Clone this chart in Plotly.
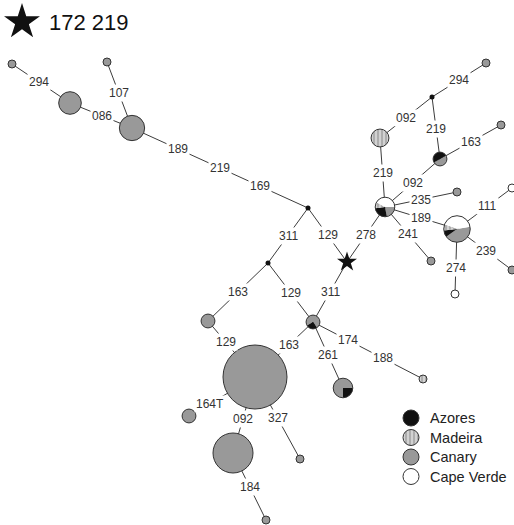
import math
import plotly.graph_objects as go

W, H = 514, 525

# ---------------- data ----------------
regions = ["Azores", "Madeira", "Canary", "Cape Verde"]
haplotypes = ["H1", "H2", "H3", "H4", "H5", "H6", "H7", "H8", "H9", "H10", "H11", "H12",
              "H13", "H14", "H15", "H16", "H17", "H18", "H19", "H20", "H21", "H22", "H23", "H24"]
# number of sequences per haplotype and region (estimated from node size / slices)
azores    = [0, 0, 0, 0, 0, 0.8, 0, 0, 0, 0, 0, 1.5, 0, 0, 1.56, 0.9, 0, 1.5, 0, 0, 0, 0, 0, 0]
madeira   = [0, 0, 0, 0, 0, 0, 0, 0, 0, 0, 0, 0, 1, 5, 0.6, 0.8, 0, 0, 0, 0, 0, 0, 0, 0]
canary    = [1, 8, 1, 10, 3, 2.2, 64, 3, 25, 1, 1, 4.5, 0, 0, 1.32, 4.7, 1, 1.5, 1, 1, 0, 1, 1, 0]
capeverde = [0, 0, 0, 0, 0, 0, 0, 0, 0, 0, 0, 0, 0, 0, 2.52, 4.6, 0, 0, 0, 0, 1, 0, 0, 1]

median_vectors = ["M1", "M2", "M3"]
root = "R"
root_label = "172 219"

# edges: (from, to, mutations along the edge)
edges = [
    ("H1", "H2", ["294"]),
    ("H2", "H4", ["086"]),
    ("H3", "H4", ["107"]),
    ("H4", "M1", ["189", "219", "169"]),
    ("M1", "M2", ["311"]),
    ("M1", "R", ["129"]),
    ("R", "H15", ["278"]),
    ("M2", "H5", ["163"]),
    ("M2", "H6", ["129"]),
    ("R", "H6", ["311"]),
    ("H5", "H7", ["129"]),
    ("H6", "H7", ["163"]),
    ("H6", "H12", ["261"]),
    ("H6", "H13", ["174", "188"]),
    ("H7", "H8", ["164T"]),
    ("H7", "H9", ["092"]),
    ("H7", "H10", ["327"]),
    ("H9", "H11", ["184"]),
    ("H15", "H14", ["219"]),
    ("H14", "M3", ["092"]),
    ("M3", "H17", ["294"]),
    ("M3", "H18", ["219"]),
    ("H18", "H19", ["163"]),
    ("H15", "H18", ["092"]),
    ("H15", "H20", ["235"]),
    ("H15", "H16", ["189"]),
    ("H15", "H22", ["241"]),
    ("H16", "H21", ["111"]),
    ("H16", "H23", ["239"]),
    ("H16", "H24", ["274"]),
]

# ---------------- layout (network drawing) ----------------
pos = {
    "H1": (12, 64), "H2": (70, 103), "H3": (107, 62), "H4": (132, 128),
    "H5": (208, 321), "H6": (313, 322), "H7": (255, 377), "H8": (189, 416),
    "H9": (233, 453), "H10": (300, 459), "H11": (266, 520), "H12": (343, 388),
    "H13": (423, 379), "H14": (380, 138), "H15": (385, 207), "H16": (457, 229),
    "H17": (486, 63), "H18": (440, 159), "H19": (501, 125), "H20": (457, 192),
    "H21": (512, 188), "H22": (431, 261), "H23": (512, 270), "H24": (455, 294),
    "M1": (308, 208), "M2": (268, 263), "M3": (432, 97), "R": (347, 262),
}
label_t = [[0.47], [0.52], [0.47], [0.26, 0.5, 0.73], [0.5], [0.5], [0.5], [0.5], [0.5],
           [0.5], [0.38], [0.42], [0.5], [0.32, 0.64], [0.68], [0.55], [0.5], [0.51],
           [0.49], [0.5], [0.5], [0.52], [0.5], [0.5], [0.5], [0.5], [0.5], [0.56],
           [0.53], [0.6]]
start_angle = {"H6": 240, "H12": 180, "H15": 90, "H16": 80, "H18": 60}

FONT = "Liberation Sans, Arial, sans-serif"
OUT = "#333333"
colors = {"Azores": "#111111", "Madeira": "#d2d2d2", "Canary": "#999999", "Cape Verde": "#ffffff"}
pie_order = ["Canary", "Azores", "Madeira", "Cape Verde"]
SCALE = 4.0  # radius (px) per sqrt(count)

fig = go.Figure()

# edges
ex, ey = [], []
for a, b, _ in edges:
    (x0, y0), (x1, y1) = pos[a], pos[b]
    ex += [x0, x1, None]
    ey += [y0, y1, None]
fig.add_trace(go.Scatter(x=ex, y=ey, mode="lines", line=dict(color="#3c3c3c", width=1),
                         hoverinfo="skip", showlegend=False))

# mutation labels
annotations = []
for (a, b, muts), ts in zip(edges, label_t):
    (x0, y0), (x1, y1) = pos[a], pos[b]
    for m, t in zip(muts, ts):
        annotations.append(dict(x=x0 + (x1 - x0) * t, y=y0 + (y1 - y0) * t, text=m,
                                showarrow=False, xref="x", yref="y", bgcolor="white",
                                borderpad=1, font=dict(family=FONT, size=12, color="#333")))

# haplotype nodes
shapes = []
solid = {r: ([], [], []) for r in regions}
for i, h in enumerate(haplotypes):
    comp = {"Azores": azores[i], "Madeira": madeira[i], "Canary": canary[i], "Cape Verde": capeverde[i]}
    n = sum(comp.values())
    r = SCALE * math.sqrt(n)
    cx, cy = pos[h]
    nz = [k for k in pie_order if comp[k] > 0]
    if len(nz) == 1 and nz[0] != "Madeira":
        xs, ys, ss = solid[nz[0]]
        xs.append(cx); ys.append(cy); ss.append(2 * r)
        continue
    fig.add_trace(go.Pie(
        values=[comp[k] for k in nz],
        marker=dict(colors=[colors[k] for k in nz], line=dict(width=0),
                    pattern=dict(shape=["|" if k == "Madeira" else "" for k in nz],
                                 fillmode="overlay", fgcolor="#555555", size=4, solidity=0.3)),
        domain=dict(x=[(cx - r) / W, (cx + r) / W], y=[(H - cy - r) / H, (H - cy + r) / H]),
        rotation=start_angle.get(h, 0), direction="clockwise", sort=False,
        textinfo="none", hoverinfo="skip", showlegend=False))
    shapes.append(dict(type="circle", xref="x", yref="y", x0=cx - r, x1=cx + r,
                       y0=cy - r, y1=cy + r, line=dict(color=OUT, width=1),
                       fillcolor="rgba(0,0,0,0)", layer="above"))

for reg in regions:
    xs, ys, ss = solid[reg]
    if xs:
        fig.add_trace(go.Scatter(x=xs, y=ys, mode="markers", hoverinfo="skip", showlegend=False,
                                 marker=dict(size=ss, color=colors[reg], opacity=1,
                                             line=dict(color=OUT, width=1))))

# median vectors
fig.add_trace(go.Scatter(x=[pos[m][0] for m in median_vectors], y=[pos[m][1] for m in median_vectors],
                         mode="markers", marker=dict(size=5, color="#111", opacity=1), hoverinfo="skip",
                         showlegend=False))
# root star
fig.add_trace(go.Scatter(x=[pos[root][0]], y=[pos[root][1]], mode="markers",
                         marker=dict(symbol="star", size=15, color="#111", opacity=1), hoverinfo="skip",
                         showlegend=False))

# title note: star = 172 219
fig.add_trace(go.Scatter(x=[22], y=[22], mode="markers",
                         marker=dict(symbol="star", size=27, color="#111", opacity=1),
                         hoverinfo="skip", showlegend=False))
annotations.append(dict(x=47, y=22, xref="x", yref="y", text=root_label, showarrow=False,
                        xanchor="left", font=dict(family=FONT, size=22, color="#111")))

# legend
leg_x, leg_y0, leg_dy, leg_r = 411, 418, 19.5, 8
for j, reg in enumerate(regions):
    ly = leg_y0 + j * leg_dy
    if reg == "Madeira":
        fig.add_trace(go.Pie(values=[1], marker=dict(colors=[colors[reg]], line=dict(width=0),
                             pattern=dict(shape=["|"], fillmode="overlay", fgcolor="#555555", size=4, solidity=0.3)),
                             domain=dict(x=[(leg_x - leg_r) / W, (leg_x + leg_r) / W],
                                         y=[(H - ly - leg_r) / H, (H - ly + leg_r) / H]),
                             textinfo="none", hoverinfo="skip", showlegend=False, sort=False))
        shapes.append(dict(type="circle", xref="x", yref="y", x0=leg_x - leg_r, x1=leg_x + leg_r,
                           y0=ly - leg_r, y1=ly + leg_r, line=dict(color=OUT, width=1),
                           fillcolor="rgba(0,0,0,0)", layer="above"))
    else:
        fig.add_trace(go.Scatter(x=[leg_x], y=[ly], mode="markers", hoverinfo="skip", showlegend=False,
                                 marker=dict(size=2 * leg_r, color=colors[reg], opacity=1,
                                             line=dict(color=OUT, width=1))))
    annotations.append(dict(x=428, y=ly, xref="x", yref="y", text=reg, showarrow=False, xanchor="left",
                            font=dict(family=FONT, size=14.5, color="#222")))

fig.update_layout(
    width=W, height=H, margin=dict(l=0, r=0, t=0, b=0),
    paper_bgcolor="white", plot_bgcolor="white",
    xaxis=dict(range=[0, W], visible=False, fixedrange=True),
    yaxis=dict(range=[H, 0], visible=False, fixedrange=True),
    annotations=annotations, shapes=shapes, showlegend=False,
)
fig.write_html("out.html", config={"displayModeBar": False},
               post_script="document.body.style.margin='0';document.body.style.overflow='hidden';")
